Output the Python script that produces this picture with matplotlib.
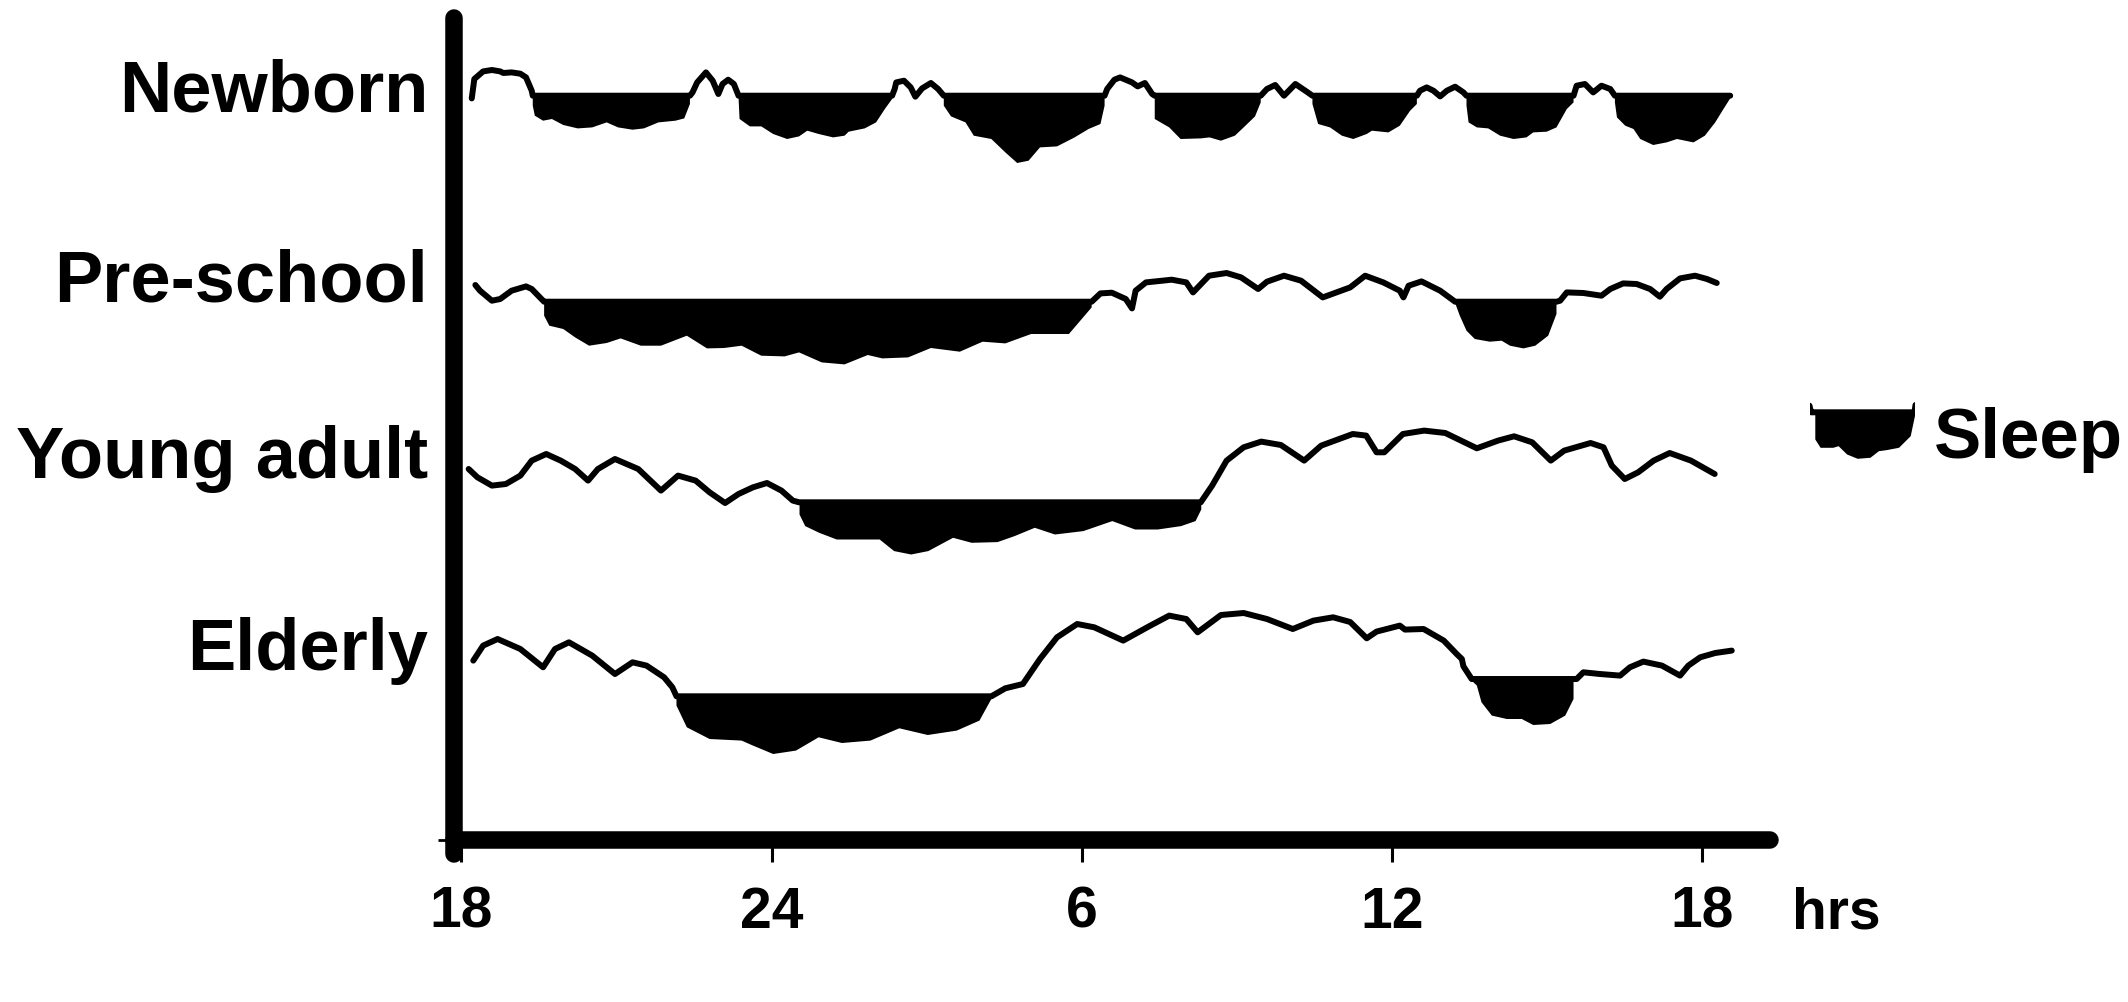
import numpy as np
import matplotlib.pyplot as plt

plt.rcParams['font.family'] = ['Liberation Sans', 'DejaVu Sans']
plt.rcParams['font.weight'] = 'bold'

rows = ['Newborn', 'Pre-school', 'Young adult', 'Elderly']

# hours after 18:00, trace level (above the sleep line = awake)
newborn_h = [0.20, 0.25, 0.42, 0.59, 0.75, 0.81, 0.97, 1.14, 1.25, 1.36, 1.38, 1.42, 1.58, 1.75, 1.97,
             2.25, 2.53, 2.81, 3.03, 3.31, 3.53, 3.81, 4.14, 4.31, 4.42, 4.47, 4.56, 4.73, 4.86, 4.97,
             5.05, 5.16, 5.27, 5.36, 5.38, 5.58, 5.80, 6.03, 6.30, 6.53, 6.69, 6.91, 7.19, 7.41, 7.49,
             7.80, 8.02, 8.19, 8.33, 8.38, 8.41, 8.56, 8.69, 8.78, 8.91, 9.08, 9.22, 9.33, 9.47, 9.75,
             9.91, 10.25, 10.52, 10.75, 10.97, 11.19, 11.52, 11.86, 12.13, 12.36, 12.44, 12.49, 12.63,
             12.74, 12.97, 13.08, 13.22, 13.36, 13.41, 13.69, 13.91, 14.30, 14.47, 14.69, 14.96, 15.13,
             15.35, 15.46, 15.58, 15.74, 15.91, 16.13, 16.35, 16.46, 16.57, 16.80, 17.03, 17.25, 17.51,
             17.61, 17.93, 18.15, 18.35, 18.48, 18.54, 18.67, 18.80, 18.93, 19.06, 19.22, 19.38, 19.44,
             19.48, 19.64, 19.86, 20.09, 20.35, 20.60, 20.73, 20.99, 21.18, 21.38, 21.51, 21.53, 21.57,
             21.73, 21.89, 22.05, 22.22, 22.31, 22.35, 22.51, 22.67, 22.80, 23.05, 23.31, 23.51, 23.83,
             24.05, 24.25, 24.41, 24.54]
newborn_lvl = [-2.7, 16.7, 24.3, 25.7, 24.3, 22.7, 23.3, 22, 18.3, 5, -10, -20, -25, -23.3, -29.3,
               -32.7, -31.7, -26.7, -31.7, -34, -32.7, -26.7, -25, -22.7, -8.3, 3.3, 13.3, 23.3, 15, 1.7,
               11.7, 16, 11.7, -1.7, -23.3, -30.7, -30.7, -38.3, -43.3, -40.7, -35, -38.3, -41.7, -40, -36,
               -32.7, -26.7, -13.3, -3.3, 6.7, 13.3, 15, 8.3, -1, 7.3, 12.7, 6.7, -10, -20.7, -26.7,
               -40, -43.3, -56.7, -67.3, -65, -51.7, -50.7, -41.7, -33.3, -28.3, -10, 6.7, 16,
               18.3, 13.3, 9.3, 12.7, 1.7, -23.3, -31.7, -43.3, -42.7, -41.7, -45, -40, -31.7,
               -20.7, -6.7, 6.7, 10.7, 0, 11.7, 4, -8.3, -28.3, -31.7, -40, -43.3, -38.3,
               -35, -36.7, -30, -15, -8.3, 5, 8.3, 5, -0.7, 5, 9, 3.3, -10,
               -26.7, -31.7, -32.7, -40, -43.3, -41.7, -36.7, -36, -31.7, -13.3, -6.7, 3.3, 10,
               11.7, 3.3, 10, 6.7, -6.7, -21.7, -30, -33.3, -43.3, -49.3, -46.7, -43.3, -46.7,
               -40, -26.7, -13.3, -2.7]
newborn_sleep = [(1.37, 4.45, 0), (5.33, 8.35, 0), (9.3, 12.46, 0), (13.38, 15.5, 0),
                 (16.4, 18.5, 0), (19.4, 21.52, 0), (22.28, 24.6, 0)]

preschool_h = [0.27, 0.36, 0.59, 0.75, 0.97, 1.25, 1.36, 1.58, 1.60, 1.70, 1.97, 2.20, 2.47, 2.81, 3.08,
               3.47, 3.86, 4.36, 4.75, 5.08, 5.42, 5.80, 6.25, 6.53, 6.97, 7.41, 7.86, 8.14, 8.64, 9.08,
               9.64, 10.08, 10.52, 11.02, 11.75, 11.97, 12.19, 12.36, 12.58, 12.85, 12.97, 13.04, 13.24,
               13.74, 14.02, 14.15, 14.46, 14.80, 15.08, 15.41, 15.58, 15.91, 16.24, 16.66, 17.19, 17.48,
               17.83, 18.15, 18.22, 18.32, 18.57, 18.93, 19.22, 19.31, 19.44, 19.60, 19.89, 20.12, 20.28,
               20.54, 20.77, 21.02, 21.18, 21.25, 21.38, 21.70, 22.05, 22.22, 22.47, 22.73, 22.99, 23.18,
               23.31, 23.57, 23.86, 24.09, 24.28]
preschool_lvl = [16.7, 11, 1, 2.7, 11, 15.3, 12.7, 1, -14, -24, -27.3, -35.7, -44, -41.3, -36.7,
                 -44, -44, -34, -46.7, -46.3, -44, -54, -54.7, -50.7, -60.7, -62.7, -53.3, -56.7, -55.7, -46.3,
                 -50, -40, -41.7, -32.3, -32.3, -19, -5.7, 8.3, 9, 2.7, -6.7, 11, 19.3,
                 22, 19.3, 9.3, 26, 28.7, 24.3, 12.7, 20, 26, 21, 4.3, 14.3, 26,
                 19.3, 11, 4.3, 16, 20.3, 11, -1.3, -14, -29, -37.3, -40, -39, -44,
                 -46.7, -44, -34, -12.3, 1, 9.3, 8.7, 6, 12.7, 18.3, 17.7, 12.7, 5,
                 12.7, 23.3, 26, 22.7, 18.7]
preschool_sleep = [(1.59, 12.2, 0), (19.2, 21.22, 0)]

young_h = [0.14, 0.31, 0.59, 0.86, 1.14, 1.36, 1.64, 1.92, 2.20, 2.45, 2.64, 2.97, 3.42, 3.86, 4.19,
           4.53, 4.80, 5.10, 5.36, 5.64, 5.91, 6.19, 6.41, 6.53, 6.64, 6.91, 7.25, 8.08, 8.36, 8.69,
           9.02, 9.50, 9.86, 10.36, 10.69, 11.08, 11.47, 12.02, 12.58, 13.02, 13.46, 13.91, 14.19, 14.30,
           14.52, 14.80, 15.13, 15.47, 15.85, 16.30, 16.63, 17.24, 17.50, 17.70, 17.85, 18.21, 18.62,
           19.03, 19.64, 20.05, 20.36, 20.71, 21.07, 21.33, 21.84, 22.09, 22.25, 22.50, 22.76, 23.06,
           23.37, 23.78, 24.24]
young_lvl = [33.3, 25, 16.7, 18.3, 26.7, 41.7, 48.3, 41.7, 33.3, 21.7, 33.3, 43.3, 33.3, 11.7, 26.7,
             21.7, 10, -0.7, 8.3, 15, 19.3, 11.7, 1.7, -11.7, -23.3, -30, -36.7, -36.7, -48.3, -51.7,
             -48.3, -35, -40, -39.3, -33.3, -25, -31.7, -28.3, -18.3, -26.7, -26.7, -23.3, -18.3, -6.7,
             16.7, 41.7, 55, 60.7, 57.3, 41.7, 56.7, 68.3, 66.7, 50, 50, 68.3, 71.7,
             69.3, 54, 61.7, 66, 60, 41.7, 51.7, 59.3, 55, 36.7, 23.3, 30, 41.7,
             49.3, 41.7, 28.3]
young_sleep = [(6.45, 14.35, 0)]

elderly_h = [0.23, 0.42, 0.70, 1.14, 1.58, 1.81, 2.08, 2.53, 2.97, 3.31, 3.58, 3.92, 4.08, 4.16, 4.36,
             4.80, 5.42, 5.64, 6.03, 6.47, 6.91, 7.36, 7.91, 8.47, 9.02, 9.58, 10.02, 10.25, 10.52, 10.86,
             11.19, 11.52, 11.91, 12.24, 12.80, 13.30, 13.69, 14.02, 14.24, 14.69, 15.13, 15.58, 16.08,
             16.48, 16.86, 17.19, 17.51, 17.70, 18.15, 18.25, 18.61, 19.00, 19.25, 19.35, 19.38, 19.54,
             19.64, 19.73, 19.93, 20.22, 20.51, 20.73, 21.06, 21.35, 21.51, 21.57, 21.70, 22.02, 22.41,
             22.60, 22.86, 23.22, 23.57, 23.73, 23.96, 24.25, 24.57]
elderly_lvl = [35.7, 50.7, 57.3, 47.3, 29, 47.3, 54, 40.7, 22.3, 34, 30.7, 19, 9, -9.3, -31,
               -42.7, -44.3, -49.3, -57.7, -54.3, -41, -46.7, -44.3, -32, -38.7, -34.3, -24.3, -2.7, 8, 12.3,
               37.3, 59, 72.3, 69, 55.7, 70, 80.7, 77.3, 64, 81.3, 83.3, 77.3, 67.3,
               75.7, 79, 74.3, 58, 64.7, 70.7, 66.7, 67.3, 55.7, 42.3, 37.3, 30, 15.7,
               10.7, -6, -19.3, -22.7, -22.7, -28.7, -27.7, -19.3, -2.7, 17.3, 24, 22.3, 20.7,
               29, 34.7, 30.7, 20.7, 30.7, 39, 43.3, 45.7]
elderly_sleep = [(4.12, 10.3, 0), (19.5, 21.54, 17.3)]

# legend swatch, same idea as the traces
icon_t = [0.0, 0.014, 0.05, 0.10, 0.22, 0.27, 0.35, 0.45, 0.57, 0.65, 0.72, 0.84, 0.95, 0.99, 1.0]
icon_lvl = [6.6, 0, -26.7, -35, -35, -33.4, -41.7, -46, -45, -38.4, -37.4, -35, -23.4, -3.4, 7.3]
icon_sleep = [(0.01, 0.995, 0)]

tick_hours = [0, 6, 12, 18, 24]
tick_labels = ['18', '24', '6', '12', '18']

traces = [(newborn_h, newborn_lvl, newborn_sleep),
          (preschool_h, preschool_lvl, preschool_sleep),
          (young_h, young_lvl, young_sleep),
          (elderly_h, elderly_lvl, elderly_sleep)]
row_base = [743.8, 537.8, 337.2, 143.2]
label_y = [729.5, 539.5, 362.5, 170.5]


def draw_trace(ax, h, lvl, sleep, base, lw=4.3):
    h = np.array(h, float)
    lvl = np.array(lvl, float)
    top = np.full_like(lvl, np.nan)
    for s, e, t in sleep:
        top[(h >= s) & (h <= e)] = t
    asleep = ~np.isnan(top) & (lvl < top)
    line = np.where(asleep, top, lvl)
    ax.fill_between(h, base + lvl, base + line, where=asleep, color='black', lw=0)
    ax.plot(h, base + line, color='black', lw=lw, solid_joinstyle='round', solid_capstyle='round')


fig = plt.figure(figsize=(21.28, 10.03), dpi=100)
ax = fig.add_axes([0.21335, 0.13858, 0.61842, 0.85145])

for (h, lvl, sleep), base in zip(traces, row_base):
    draw_trace(ax, h, lvl, sleep, base)

for name, y in zip(rows, label_y):
    ax.text(-0.646, y, name, ha='right', va='baseline', fontsize=52, fontweight='bold', clip_on=False)

ax.set_xlim(-0.143, 25.31)
ax.set_ylim(-23.5, 830.5)

ax.spines['top'].set_visible(False)
ax.spines['right'].set_visible(False)
ax.spines['left'].set_linewidth(12.6)
ax.spines['left'].set_capstyle('round')
ax.spines['left'].set_bounds(-14.5, 821.5)
ax.spines['bottom'].set_linewidth(12.6)
ax.spines['bottom'].set_position(('data', 0))
ax.spines['bottom'].set_capstyle('round')

ax.set_xticks(tick_hours)
ax.set_xticklabels(tick_labels, fontsize=41, fontweight='bold')
ax.tick_params(axis='x', direction='out', length=15.5, width=2.2, pad=17)
ax.set_yticks([0])
ax.set_yticklabels([''])
ax.tick_params(axis='y', direction='out', length=11.5, width=2)

ax.text(25.74, -87.5, 'hrs', ha='left', va='baseline', fontsize=41, fontweight='bold', clip_on=False)
ax.text(28.48, 382.5, 'Sleep', ha='left', va='baseline', fontsize=51, fontweight='bold', clip_on=False)

icon_ax = fig.add_axes([0.85033, 0.53809, 0.04981, 0.05982])
draw_trace(icon_ax, icon_t, icon_lvl, icon_sleep, 0)
icon_ax.set_xlim(0, 1)
icon_ax.set_ylim(-50, 10)
icon_ax.axis('off')

fig.savefig('out.png', dpi=100)
